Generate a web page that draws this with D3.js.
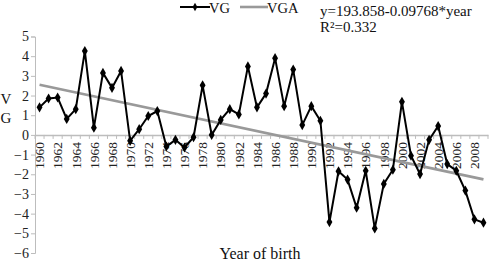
<!DOCTYPE html>
<html><head><meta charset="utf-8">
<script src="https://cdn.jsdelivr.net/npm/d3@7/dist/d3.min.js"></script>
<style>body{margin:0;background:#fff}svg{display:block}</style>
</head><body>
<svg id="c" width="489" height="261"></svg>
<script>
const years = d3.range(1960, 2010);
const vg = [1.40,1.85,1.90,0.81,1.31,4.26,0.37,3.15,2.39,3.25,
            -0.30,0.29,0.96,1.21,-0.59,-0.25,-0.64,-0.12,2.52,0.00,
            0.76,1.31,1.04,3.48,1.40,2.10,3.90,1.46,3.32,0.50,
            1.46,0.72,-4.43,-1.85,-2.27,-3.70,-1.82,-4.75,-2.49,-1.77,
            1.68,-1.06,-1.99,-0.25,0.45,-1.48,-1.82,-2.83,-4.29,-4.46];
const vgaYears = [1960, 2009];
const vgaValues = [2.55, -2.26];
const yTicks = d3.range(-6, 6);
const xTickLabels = years.filter(y => y % 2 === 0);
const seriesNames = ["VG", "VGA"];
const equationText = ["y=193.858-0.09768*year", "R\u00b2=0.332"];
const yTitle = ["V", "G"];
const xTitle = "Year of birth";

const svg = d3.select("#c");
const font = "'Liberation Serif','Times New Roman',serif";
const x = d3.scaleBand().domain(years).range([35, 488]);
const y = d3.scaleLinear().domain([-6, 5]).range([253, 36.5]);
const cx = d => x(d) + x.bandwidth() / 2;

// y axis
const yAxis = svg.append("g").attr("transform", "translate(35,0)")
  .call(d3.axisLeft(y).tickValues(yTicks).tickSize(4).tickPadding(2).tickFormat(d3.format("d")));
yAxis.select(".domain").attr("stroke", "#bdbdbd");
yAxis.selectAll(".tick line").attr("stroke", "#bdbdbd");
yAxis.selectAll("text").attr("font-family", font).attr("font-size", 14).attr("fill", "#222");

// x axis at zero
const xAxis = svg.append("g").attr("transform", `translate(0,${y(0)})`)
  .call(d3.axisBottom(x).tickValues(xTickLabels).tickSize(0).tickFormat(d3.format("d")));
xAxis.select(".domain").attr("stroke", "#bdbdbd").attr("stroke-width", 1.5);
xAxis.selectAll("text")
  .attr("font-family", font).attr("font-size", 13.5).attr("fill", "#222")
  .attr("transform", "rotate(-90)").attr("text-anchor", "end")
  .attr("x", -7).attr("y", 0).attr("dy", "0.35em");
// boundary tick marks
svg.append("g").selectAll("line").data(years.concat([2010])).join("line")
  .attr("x1", d => d === 2010 ? 488 : x(d)).attr("x2", d => d === 2010 ? 488 : x(d))
  .attr("y1", y(0)).attr("y2", y(0) + 4)
  .attr("stroke", "#bdbdbd").attr("stroke-width", 1);

// trend line
svg.append("path")
  .datum(vgaYears.map((yr, i) => [yr, vgaValues[i]]))
  .attr("d", d3.line().x(d => cx(d[0])).y(d => y(d[1])))
  .attr("stroke", "#999").attr("stroke-width", 2.6).attr("fill", "none");

// VG line
svg.append("path")
  .datum(years.map((yr, i) => [yr, vg[i]]))
  .attr("d", d3.line().x(d => cx(d[0])).y(d => y(d[1])))
  .attr("stroke", "#000").attr("stroke-width", 2).attr("fill", "none");
const diamond = d3.symbol().type(d3.symbolDiamond).size(30);
svg.append("g").selectAll("path").data(years.map((yr, i) => [yr, vg[i]])).join("path")
  .attr("d", diamond)
  .attr("transform", d => `translate(${cx(d[0])},${y(d[1])})`)
  .attr("fill", "#000");

// legend
const lg = svg.append("g");
lg.append("line").attr("x1", 180).attr("x2", 210).attr("y1", 7).attr("y2", 7)
  .attr("stroke", "#000").attr("stroke-width", 2);
lg.append("path").attr("d", d3.symbol().type(d3.symbolDiamond).size(20))
  .attr("transform", "translate(195,7)").attr("fill", "#000");
lg.append("text").attr("x", 209).attr("y", 13).text(seriesNames[0])
  .attr("font-family", font).attr("font-size", 14.5).attr("fill", "#111");
lg.append("line").attr("x1", 240).attr("x2", 268).attr("y1", 7).attr("y2", 7)
  .attr("stroke", "#999").attr("stroke-width", 2.6);
lg.append("text").attr("x", 267).attr("y", 13).text(seriesNames[1])
  .attr("font-family", font).attr("font-size", 14.5).attr("fill", "#111");

// equation
svg.append("g").selectAll("text").data(equationText).join("text")
  .attr("x", 320).attr("y", (d, i) => 16 + i * 16).text(d => d)
  .attr("font-family", font).attr("font-size", 15).attr("fill", "#111");

// y title
svg.append("g").selectAll("text").data(yTitle).join("text")
  .attr("x", 6).attr("y", (d, i) => 104 + i * 19).attr("text-anchor", "middle").text(d => d)
  .attr("font-family", font).attr("font-size", 15).attr("fill", "#111");

// x title
svg.append("text").attr("x", 260).attr("y", 259).attr("text-anchor", "middle").text(xTitle)
  .attr("font-family", font).attr("font-size", 16).attr("fill", "#111");
</script>
</body></html>
